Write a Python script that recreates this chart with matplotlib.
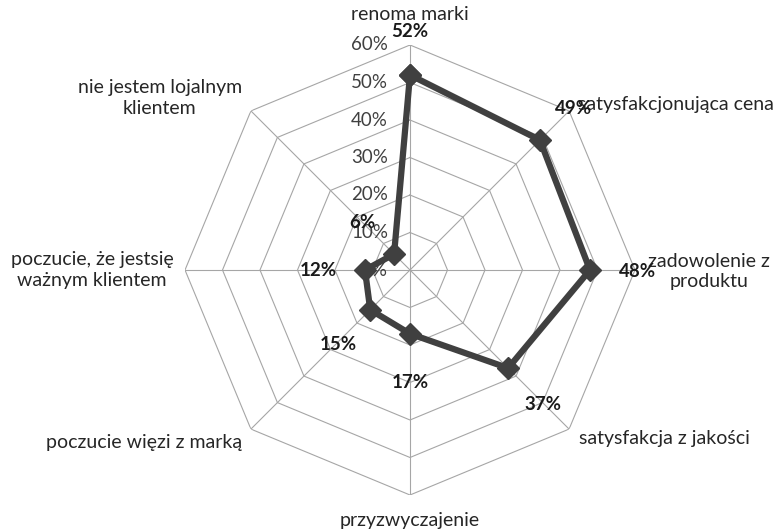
import numpy as np
import matplotlib
matplotlib.use("Agg")
import matplotlib.pyplot as plt
from matplotlib.transforms import offset_copy

plt.rcParams['font.family'] = ['Lato', 'DejaVu Sans']

# data
categories = ["renoma marki", "satysfakcjonująca cena", "zadowolenie z\nproduktu",
              "satysfakcja z jakości", "przyzwyczajenie", "poczucie więzi z marką",
              "poczucie, że jestsię\nważnym klientem", "nie jestem lojalnym\nklientem"]
values = [52, 49, 48, 37, 17, 15, 12, 6]
ticks = [0, 10, 20, 30, 40, 50, 60]
tick_labels = ["0%", "10%", "20%", "30%", "40%", "50%", "60%"]

# label placement (angle deg clockwise from top, radius in % units, ha)
cat_pos = [(0, 68, 'center'), (45.5, 62.8, 'left'), (90.3, 79.7, 'center'),
           (123.4, 81.4, 'center'), (180, 66.7, 'center'), (237.0, 84.7, 'center'),
           (270, 84.8, 'center'), (304.5, 81.0, 'center')]
val_pos = [(0, 63.5), (45.2, 61.3), (90.5, 60.8), (135.4, 50.5),
           (180, 30.1), (223.8, 27.7), (270, 24.5), (315, 18.1)]

W, H = 779, 531
fig = plt.figure(figsize=(W / 100, H / 100), dpi=100)
cx, cy, R = 410, 270, 225
ax = fig.add_axes([(cx - R) / W, (H - cy - R) / H, 2 * R / W, 2 * R / H], projection='polar')
ax.set_theta_zero_location('N')
ax.set_theta_direction(-1)
ax.set_ylim(0, 60)
ax.grid(False)
ax.set_xticks([])
ax.set_yticks([])
ax.spines['polar'].set_visible(False)
ax.patch.set_alpha(0)

n = len(categories)
angles = np.linspace(0, 2 * np.pi, n, endpoint=False)
closed = np.append(angles, angles[0])

# octagon grid
for t in ticks[1:]:
    ax.plot(closed, [t] * (n + 1), color='#a6a6a6', lw=0.8, zorder=1)
for a in angles:
    ax.plot([a, a], [0, 60], color='#a6a6a6', lw=0.8, zorder=1)

# radial tick labels
tr = offset_copy(ax.transData, fig=fig, x=-22, y=0, units='dots')
for t, lab in zip(ticks, tick_labels):
    ax.text(0, t, lab, transform=tr, ha='right', va='center', fontsize=13.5, color='#404040')

# series
vals = np.append(values, values[0])
ax.plot(closed, vals, color='#404040', lw=4.5, marker='D', markersize=11,
        markerfacecolor='#404040', markeredgecolor='#404040', zorder=3)

for (deg, r), v in zip(val_pos, values):
    ax.text(np.deg2rad(deg), r, f"{v}%", ha='center', va='center', fontsize=13.5,
            fontweight='bold', color='#1a1a1a', zorder=4)

for (deg, r, ha), lab in zip(cat_pos, categories):
    ax.text(np.deg2rad(deg), r, lab, ha=ha, va='center', fontsize=14,
            color='#262626', linespacing=1.25, clip_on=False)

fig.savefig("out.png", dpi=100)
